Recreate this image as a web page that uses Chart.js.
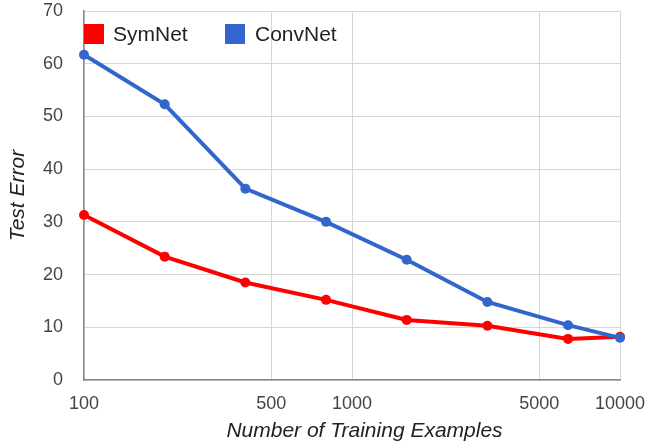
<!DOCTYPE html>
<html>
<head>
<meta charset="utf-8">
<script src="https://cdn.jsdelivr.net/npm/chart.js@4/dist/chart.umd.min.js"></script>
<style>
  html, body { margin: 0; padding: 0; background: #fff; }
  #wrap { position: relative; width: 647px; height: 442px; font-family: "Liberation Sans", Arial, sans-serif; color: #222; }
  canvas { position: absolute; left: 0; top: 0; }
  .lg-box { position: absolute; width: 20px; height: 20px; }
  .lg-txt { position: absolute; font-size: 21px; line-height: 24px; white-space: nowrap; }
  #xtitle { position: absolute; left: 0; width: 729px; top: 418px; text-align: center; font-size: 21px; font-style: italic; line-height: 24px; }
</style>
</head>
<body>
<div id="wrap">
  <canvas id="c" width="647" height="442"></canvas>
  <div class="lg-box" style="left:84px; top:24px; background:#ff0000;"></div>
  <div class="lg-txt" style="left:113px; top:22px;">SymNet</div>
  <div class="lg-box" style="left:225px; top:24px; background:#3366cc;"></div>
  <div class="lg-txt" style="left:255px; top:22px;">ConvNet</div>
  <div id="xtitle">Number of Training Examples</div>
</div>
<script>
const trainingExamples = [100, 200, 400, 800, 1600, 3200, 6400, 10000];
const symNet  = [31.3, 23.4, 18.5, 15.2, 11.4, 10.3, 7.8, 8.2];
const convNet = [61.7, 52.3, 36.3, 30.0, 22.8, 14.8, 10.4, 8.0];
const xTickValues = [100, 500, 1000, 5000, 10000];
const yTickValues = [0, 10, 20, 30, 40, 50, 60, 70];

const toPts = (vals) => trainingExamples.map((x, i) => ({ x: x, y: vals[i] }));
const zeroPad = (s) => { s.paddingLeft = 0; s.paddingRight = 0; s.paddingTop = 0; s.paddingBottom = 0; };

new Chart(document.getElementById('c'), {
  type: 'line',
  data: {
    datasets: [
      { label: 'SymNet', data: toPts(symNet), borderColor: '#ff0000', backgroundColor: '#ff0000',
        borderWidth: 4, pointRadius: 5, pointHoverRadius: 5, pointBorderWidth: 0, order: 1, clip: false, tension: 0 },
      { label: 'ConvNet', data: toPts(convNet), borderColor: '#3366cc', backgroundColor: '#3366cc',
        borderWidth: 4, pointRadius: 5, pointHoverRadius: 5, pointBorderWidth: 0, order: 0, clip: false, tension: 0 }
    ]
  },
  options: {
    responsive: false,
    animation: false,
    events: [],
    layout: { padding: { top: 11, right: 27, left: 0, bottom: 0 } },
    plugins: { legend: { display: false }, tooltip: { enabled: false } },
    scales: {
      x: {
        type: 'logarithmic',
        min: 100, max: 10000,
        afterBuildTicks: (s) => { s.ticks = xTickValues.map(v => ({ value: v })); },
        afterFit: (s) => { s.height = 62; zeroPad(s); },
        grid: { color: '#d6d6d6', lineWidth: 1, drawTicks: false },
        border: { color: '#8a8a8a', width: 1.5 },
        ticks: { color: '#444', font: { family: '"Liberation Sans", Arial, sans-serif', size: 18 }, padding: 13,
                 maxRotation: 0, autoSkip: false, callback: (v) => String(v) }
      },
      y: {
        min: 0, max: 70,
        afterBuildTicks: (s) => { s.ticks = yTickValues.map(v => ({ value: v })); },
        afterFit: (s) => { s.width = 84; zeroPad(s); },
        grid: { color: '#d6d6d6', lineWidth: 1, drawTicks: false },
        border: { color: '#8a8a8a', width: 1.5 },
        ticks: { color: '#444', font: { family: '"Liberation Sans", Arial, sans-serif', size: 18 }, padding: 21 },
        title: { display: true, text: 'Test Error', color: '#222',
                 font: { family: '"Liberation Sans", Arial, sans-serif', size: 21, style: 'italic' },
                 padding: { top: 6, bottom: 0 } }
      }
    }
  }
});
</script>
</body>
</html>
